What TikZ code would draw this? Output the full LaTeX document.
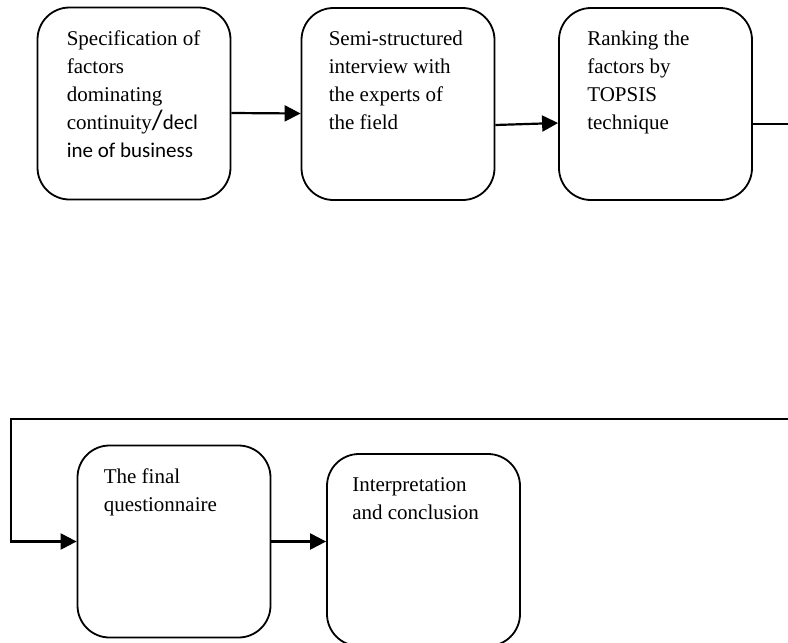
\documentclass[tikz,border=0pt]{standalone}
\usepackage{fontspec}
\setmainfont{Liberation Serif}
\newfontfamily\calfont{Carlito}
\usetikzlibrary{positioning,arrows.meta}
\tikzset{
  stage/.style={draw,rounded corners=32pt,line width=1.8pt,minimum width=193pt,minimum height=192pt,inner sep=0pt},
  steptext/.style={anchor=north west,inner sep=0pt,align=left,font=\fontsize{21}{28}\selectfont},
  arr/.style={line width=2.2pt,-{Triangle[length=16pt,width=16pt]}},
  ln/.style={line width=2.2pt}
}
\begin{document}
\begin{tikzpicture}[x=1pt,y=1pt]
	    \useasboundingbox (0,0) rectangle (788,-643);
	    \node[stage](b1) at (134,-103.5){};
	    \node[stage](b2) at (398,-104){};
	    \node[stage](b3) at (655.5,-104){};
	    \node[stage](b4) at (174,-541.5){};
	    \node[stage](b5) at (423.5,-550){};
	    \node[steptext,below right=24pt and 30pt of b1.north west](t1){Specification of\\factors\\dominating\\continuity{\calfont\fontsize{28}{28}\selectfont/}{\calfont decl}\\{\calfont ine of business}};
	    \node[steptext,below right=24pt and 28pt of b2.north west](t2){Semi-structured\\interview with\\the experts of\\the field};
	    \node[steptext,below right=24pt and 29pt of b3.north west](t3){Ranking the\\factors by\\TOPSIS\\technique};
	    \node[steptext,below right=24pt and 27pt of b4.north west](t4){The final\\questionnaire};
	    \node[steptext,below right=24pt and 26pt of b5.north west](t5){Interpretation\\and conclusion};
	    \coordinate (e1) at (788,-124);
	    \coordinate (e2) at (788,-419);
	    \coordinate (c1) at (11,-419);
	    \draw[arr]([yshift=-9.5pt]b1.east)--([yshift=-9.5pt]b2.west);
	    \draw[arr]([yshift=-21pt]b2.east)--([yshift=-19pt]b3.west);
	    \draw[ln]([yshift=-20pt]b3.east)--(e1);
	    \draw[arr](e2)--(c1)|-(b4.west);
	    \draw[arr](b4.east)--(b5.west|-b4.east);
	\end{tikzpicture}
\end{document}
